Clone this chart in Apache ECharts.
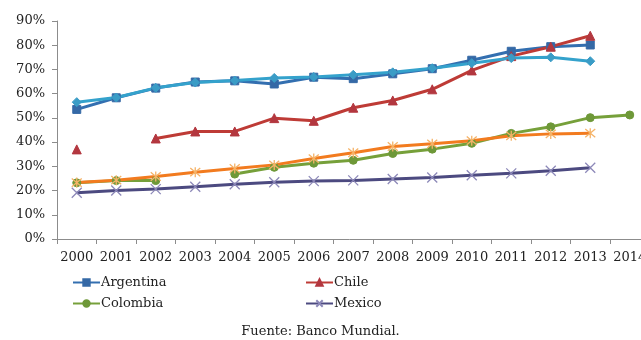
<!DOCTYPE html>
<html>
<head>
<meta charset="utf-8">
<script src="https://cdn.jsdelivr.net/npm/echarts@6/dist/echarts.min.js"></script>
<style>
  html, body { margin: 0; padding: 0; background: #ffffff; }
  #chart { width: 641px; height: 340px; }
</style>
</head>
<body>
<div id="chart"></div>
<script>
// Years on the horizontal axis
const years = ['2000','2001','2002','2003','2004','2005','2006','2007','2008','2009','2010','2011','2012','2013','2014'];

// Percentages per country (null = no data)
const argentina = [53.5, 58.3, 62.3, 64.8, 65.3, 64.0, 66.8, 66.2, 68.2, 70.3, 73.8, 77.5, 79.4, 80.1, null];
const chile     = [37.0, null, 41.5, 44.4, 44.4, 49.9, 48.8, 54.2, 57.2, 61.8, 69.6, 75.5, 79.4, 83.9, null];
const colombia  = [23.2, 24.1, 24.1, null, 26.8, 29.6, 31.3, 32.5, 35.3, 37.1, 39.5, 43.6, 46.3, 50.1, 51.2];
const mexico    = [19.1, 20.0, 20.6, 21.6, 22.6, 23.4, 23.9, 24.2, 24.8, 25.4, 26.3, 27.1, 28.2, 29.4, null];
const serie5    = [56.5, 58.4, 62.4, 64.6, 65.4, 66.5, 66.9, 67.8, 68.8, 70.5, 72.6, 74.7, 75.0, 73.4, null];
const serie6    = [23.3, 24.3, 25.8, 27.6, 29.1, 30.6, 33.2, 35.6, 38.2, 39.3, 40.6, 42.6, 43.4, 43.7, null];

const yTicks = [0, 10, 20, 30, 40, 50, 60, 70, 80, 90];

const FONT = '"DejaVu Serif", serif';
const axisGray = '#8c8c8c';

const xMark = 'path://M0,0L10,10M10,0L0,10';
const starMark = 'path://M5,-1L5,11M0,0L10,10M10,0L0,10';

function lineSeries(name, data, color, symbol, size, markColor, extra) {
  return Object.assign({
    name: name,
    type: 'line',
    data: data,
    symbol: symbol,
    symbolSize: size,
    showSymbol: true,
    connectNulls: false,
    lineStyle: { color: color, width: 3 },
    itemStyle: { color: markColor, borderColor: markColor, borderWidth: 1 },
    emphasis: { disabled: true },
    animation: false
  }, extra || {});
}

const legendText = { fontFamily: FONT, fontSize: 13, color: '#222', padding: [0, 0, 0, -4] };

const chart = echarts.init(document.getElementById('chart'), null, { renderer: 'canvas' });

chart.setOption({
  backgroundColor: '#ffffff',
  animation: false,
  grid: { left: 57, top: 21, width: 592.5, height: 218, containLabel: false, outerBoundsMode: 'none' },
  xAxis: {
    type: 'category',
    data: years,
    boundaryGap: true,
    axisLine: { lineStyle: { color: axisGray, width: 1 } },
    axisTick: { show: true, alignWithLabel: false, length: 5, lineStyle: { color: axisGray } },
    axisLabel: { color: '#222', fontFamily: FONT, fontSize: 13, margin: 12, interval: 0, hideOverlap: false },
    splitLine: { show: false }
  },
  yAxis: {
    type: 'value',
    min: yTicks[0],
    max: yTicks[yTicks.length - 1],
    interval: 10,
    axisLine: { show: true, lineStyle: { color: axisGray, width: 1 } },
    axisTick: { show: true, length: 5, lineStyle: { color: axisGray } },
    axisLabel: { color: '#222', fontFamily: FONT, fontSize: 13, margin: 12, formatter: '{value}%' },
    splitLine: { show: false }
  },
  legend: [
    {
      data: ['Argentina', 'Colombia'],
      orient: 'vertical',
      left: 67, top: 271,
      itemWidth: 27, itemHeight: 8, itemGap: 8,
      textStyle: legendText,
      selectedMode: false
    },
    {
      data: ['Chile', 'Mexico'],
      orient: 'vertical',
      left: 300, top: 271,
      itemWidth: 27, itemHeight: 8, itemGap: 8,
      textStyle: legendText,
      selectedMode: false
    }
  ],
  graphic: [{
    type: 'text',
    left: 'center',
    top: 325,
    style: { text: 'Fuente: Banco Mundial.', font: '13px "DejaVu Serif", serif', fill: '#222' }
  }],
  series: [
    lineSeries('Argentina', argentina, '#336fb0', 'rect', 8, '#3569a6'),
    lineSeries('Chile', chile, '#be3b36', 'triangle', 9, '#b3373f'),
    lineSeries('Colombia', colombia, '#76a03a', 'circle', 8, '#6e9838'),
    lineSeries('Mexico', mexico, '#4c4a80', xMark, 10, '#8c88b8', { itemStyle: { color: '#8c88b8', borderColor: '#8c88b8', borderWidth: 1.3 } }),
    lineSeries('Serie 5', serie5, '#34a2cc', 'diamond', 9, '#3a9cc6'),
    lineSeries('Serie 6', serie6, '#f27b1f', starMark, 10, '#f5b368', { itemStyle: { color: '#f5b368', borderColor: '#f5b368', borderWidth: 1.3 } })
  ]
});
</script>
</body>
</html>
